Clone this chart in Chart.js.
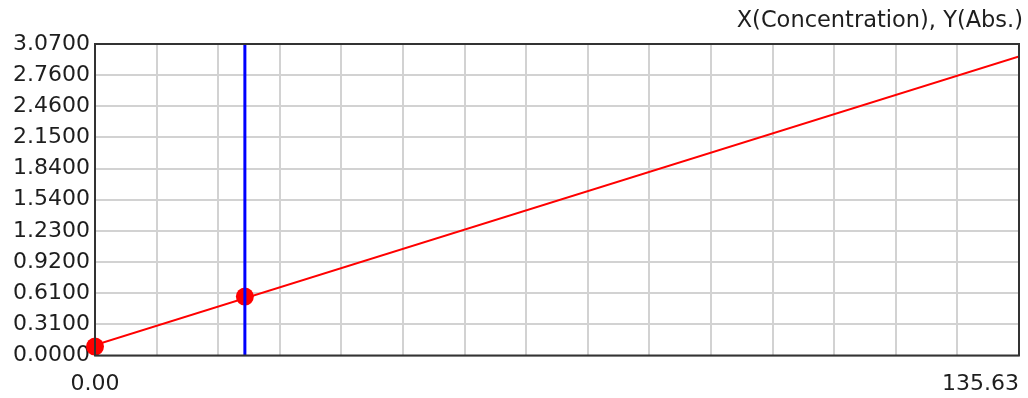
<!DOCTYPE html>
<html>
<head>
<meta charset="utf-8">
<script src="https://cdn.jsdelivr.net/npm/chart.js@4.4.1/dist/chart.umd.min.js"></script>
<style>
  html, body { margin: 0; padding: 0; background: #ffffff; }
  #wrap { width: 1028px; height: 398px; }
</style>
</head>
<body>
<div id="wrap"><canvas id="cal"></canvas></div>
<script>
// Calibration curve: absorbance vs concentration
const titleText = 'X(Concentration), Y(Abs.)';

// x axis range and its printed end labels
const xRange = [0, 135.63];
const xTickLabels = ['0.00', '135.63'];
const xGridDivisions = 15;

// y axis ticks and their printed labels
const yTickValues = [0, 0.307, 0.614, 0.921, 1.228, 1.535, 1.842, 2.149, 2.456, 2.763, 3.07];
const yTickLabels = ['0.0000', '0.3100', '0.6100', '0.9200', '1.2300', '1.5400', '1.8400', '2.1500', '2.4600', '2.7600', '3.0700'];

// standard points
const stdX = [0, 22];
const stdY = [0.088, 0.581];

// fitted line end points
const fitX = [0, 135.63];
const fitY = [0.103, 2.948];

// sample marker position
const sampleX = 22;

const FONT = 'DejaVu Sans';
const TEXT = '#1e1e1e';

const frame = {
  id: 'frame',
  afterDraw(chart) {
    const { ctx, chartArea: a, scales } = chart;
    ctx.save();
    ctx.strokeStyle = '#333333';
    ctx.lineWidth = 2;
    ctx.strokeRect(a.left, a.top, a.right - a.left, a.bottom - a.top);
    ctx.fillStyle = TEXT;
    ctx.font = '22px "' + FONT + '"';
    ctx.textBaseline = 'middle';
    xRange.forEach((v, i) => {
      const px = scales.x.getPixelForValue(v);
      ctx.textAlign = i === 0 ? 'center' : 'right';
      ctx.fillText(xTickLabels[i], px, a.bottom + 29);
    });
    ctx.restore();
  }
};

new Chart(document.getElementById('cal'), {
  type: 'scatter',
  data: {
    datasets: [
      {
        label: 'sample',
        data: [{ x: sampleX, y: yTickValues[0] }, { x: sampleX, y: yTickValues[yTickValues.length - 1] }],
        showLine: true,
        borderColor: '#0000ff',
        borderWidth: 3,
        pointRadius: 0,
        order: 0,
        clip: false
      },
      {
        label: 'standards',
        data: stdX.map((x, i) => ({ x, y: stdY[i] })),
        showLine: false,
        backgroundColor: '#ff0000',
        borderColor: '#ff0000',
        borderWidth: 0,
        pointRadius: 9,
        order: 1,
        clip: false
      },
      {
        label: 'fit',
        data: fitX.map((x, i) => ({ x, y: fitY[i] })),
        showLine: true,
        borderColor: '#ff0000',
        borderWidth: 2,
        pointRadius: 0,
        order: 2
      }
    ]
  },
  options: {
    responsive: true,
    maintainAspectRatio: false,
    animation: false,
    devicePixelRatio: 1,
    layout: { padding: { left: 0, right: 5, top: 0, bottom: 0 } },
    plugins: {
      legend: { display: false },
      tooltip: { enabled: false },
      title: {
        display: true,
        text: titleText,
        align: 'end',
        color: TEXT,
        font: { family: FONT, size: 22.5, weight: 'normal' },
        padding: { top: 8, bottom: 9 }
      }
    },
    scales: {
      x: {
        type: 'linear',
        min: xRange[0],
        max: xRange[1],
        afterBuildTicks(scale) {
          const step = (xRange[1] - xRange[0]) / xGridDivisions;
          scale.ticks = Array.from({ length: xGridDivisions + 1 }, (_, i) => ({ value: xRange[0] + i * step }));
        },
        afterFit(scale) { scale.height = 42.5; },
        ticks: { display: false },
        grid: { color: '#d2d2d2', lineWidth: 2, drawTicks: false },
        border: { display: false }
      },
      y: {
        type: 'linear',
        min: yTickValues[0],
        max: yTickValues[yTickValues.length - 1],
        afterBuildTicks(scale) {
          scale.ticks = yTickValues.map(v => ({ value: v }));
        },
        afterFit(scale) { scale.width = 95; },
        ticks: {
          padding: 5,
          color: TEXT,
          font: { family: FONT, size: 22 },
          callback: (v, i) => yTickLabels[i]
        },
        grid: { color: '#d2d2d2', lineWidth: 2, drawTicks: false },
        border: { display: false }
      }
    }
  },
  plugins: [frame]
});
</script>
</body>
</html>
